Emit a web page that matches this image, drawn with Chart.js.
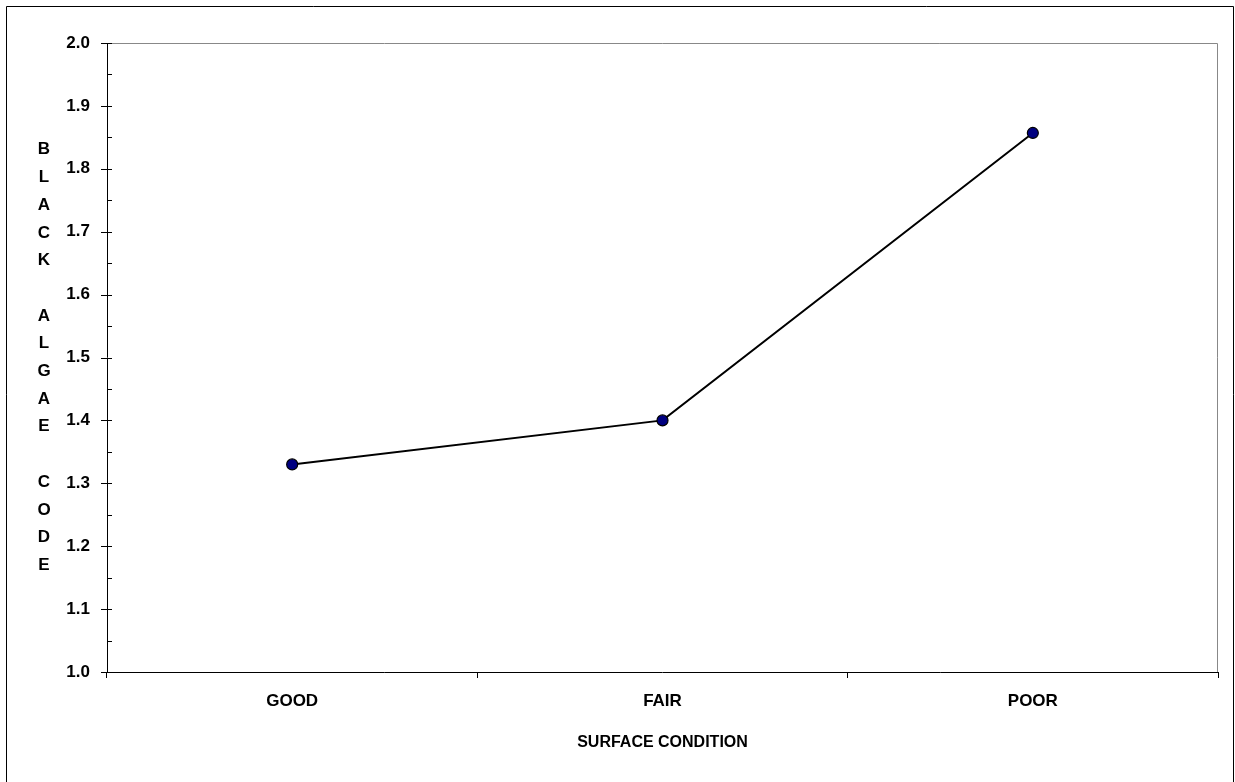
<!DOCTYPE html>
<html>
<head>
<meta charset="utf-8">
<script src="https://cdn.jsdelivr.net/npm/chart.js@4"></script>
<style>
  html, body { margin: 0; padding: 0; background: #fff; }
  #wrap { width: 1235px; height: 782px; }
</style>
</head>
<body>
<div id="wrap"><canvas id="grafico" width="1235" height="782"></canvas></div>
<script>
const categorias = ['GOOD', 'FAIR', 'POOR'];
const valores = [1.33, 1.40, 1.857];
const tituloY = ['B', 'L', 'A', 'C', 'K', '', 'A', 'L', 'G', 'A', 'E', '', 'C', 'O', 'D', 'E'];
const tituloX = 'SURFACE CONDITION';

const fuente = '"Liberation Sans", Arial, sans-serif';

window.onload = inicio;

function inicio() {
  graficoLineal();
}

// marco exterior, borde del area y marcas del eje y
const marcos = {
  id: 'marcos',
  afterDraw(chart) {
    const ctx = chart.ctx;
    const a = chart.chartArea;
    const y = chart.scales.y;
    ctx.save();
    ctx.lineWidth = 1;
    ctx.strokeStyle = '#000';
    ctx.beginPath();
    ctx.moveTo(6.5, chart.height);
    ctx.lineTo(6.5, 6.5);
    ctx.lineTo(chart.width - 1.5, 6.5);
    ctx.lineTo(chart.width - 1.5, chart.height);
    ctx.stroke();

    ctx.strokeStyle = '#888';
    ctx.beginPath();
    ctx.moveTo(a.left, a.top + 0.5);
    ctx.lineTo(a.right - 0.5, a.top + 0.5);
    ctx.lineTo(a.right - 0.5, a.bottom);
    ctx.stroke();

    ctx.strokeStyle = '#000';
    ctx.beginPath();
    ctx.moveTo(a.left + 0.5, a.top);
    ctx.lineTo(a.left + 0.5, a.bottom);
    ctx.moveTo(a.left, a.bottom + 0.5);
    ctx.lineTo(a.right, a.bottom + 0.5);
    y.ticks.forEach(function (t) {
      const py = Math.round(y.getPixelForValue(t.value)) + 0.5;
      const mayor = Math.abs(t.value * 10 - Math.round(t.value * 10)) < 1e-6;
      ctx.moveTo(a.left - (mayor ? 6 : 0), py);
      ctx.lineTo(a.left + 5, py);
    });
    ctx.stroke();

    // titulo vertical letra por letra
    ctx.fillStyle = '#000';
    ctx.font = 'bold 17px ' + fuente;
    ctx.textAlign = 'center';
    ctx.textBaseline = 'middle';
    const paso = 27.7;
    const centro = (a.top + a.bottom) / 2;
    const inicioY = centro - paso * (tituloY.length - 1) / 2;
    tituloY.forEach(function (letra, i) {
      ctx.fillText(letra, 44, inicioY + i * paso);
    });
    ctx.restore();
  }
};

function graficoLineal() {
  const ctx = document.getElementById('grafico');

  new Chart(ctx, {
    type: 'line',
    data: {
      labels: categorias,
      datasets: [{
        label: 'Black algae code',
        data: valores,
        borderWidth: 2,
        borderColor: '#000',
        backgroundColor: '#000080',
        pointRadius: 5.5,
        pointBorderWidth: 1.2,
        pointBorderColor: '#000',
        pointBackgroundColor: '#000080',
        tension: 0
      }]
    },
    options: {
      responsive: false,
      animation: false,
      layout: {
        padding: { left: 0, top: 43, right: 17, bottom: 0 }
      },
      plugins: {
        legend: { display: false },
        tooltip: { enabled: false }
      },
      scales: {
        x: {
          offset: true,
          border: { display: false },
          grid: {
            offset: true,
            drawOnChartArea: false,
            tickLength: 6,
            color: '#000'
          },
          ticks: {
            color: '#000',
            padding: 13,
            font: { family: fuente, size: 17, weight: 'bold' }
          },
          title: {
            display: true,
            text: tituloX,
            color: '#000',
            padding: { top: 20, bottom: 30 },
            font: { family: fuente, size: 16, weight: 'bold' }
          },
          afterFit: function (scale) { scale.height = 110; }
        },
        y: {
          min: 1.0,
          max: 2.0,
          border: { display: false },
          grid: { display: false, drawTicks: false },
          ticks: {
            stepSize: 0.05,
            color: '#000',
            padding: 17,
            autoSkip: false,
            font: { family: fuente, size: 17, weight: 'bold' },
            callback: function (v) {
              const r = Math.round(v * 10);
              return Math.abs(v * 10 - r) < 1e-6 ? (r / 10).toFixed(1) : '';
            }
          },
          afterFit: function (scale) { scale.width = 107; }
        }
      }
    },
    plugins: [marcos]
  });
}
</script>
</body>
</html>
